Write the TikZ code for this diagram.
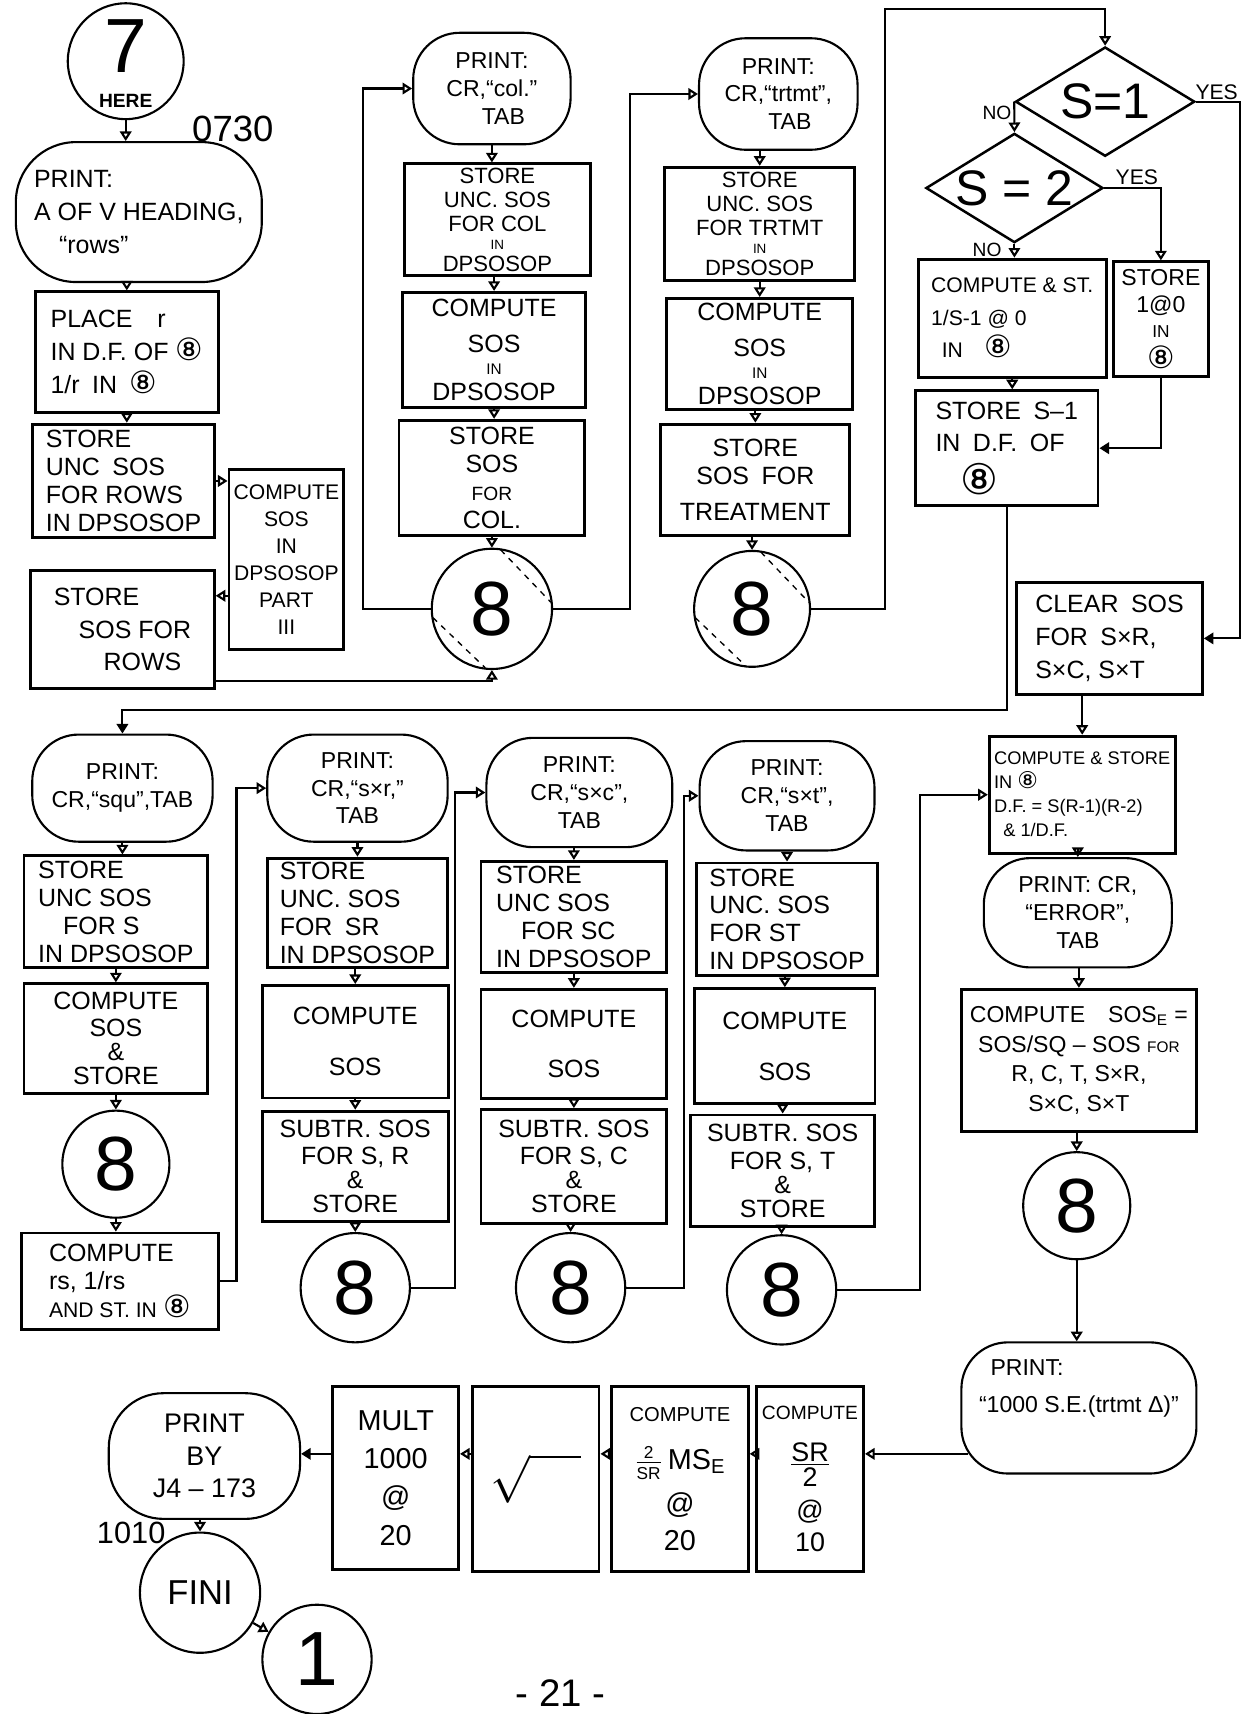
\documentclass[tikz,border=0pt]{standalone}
\usepackage{fontspec}
\setmainfont{Liberation Sans}
\newfontfamily\dejavu{DejaVu Sans}
\usetikzlibrary{shapes.geometric,arrows.meta,calc}
\newcommand{\ei}[1][16]{{\dejavu\fontsize{#1}{#1}\selectfont ⑧}}
\newcommand{\sm}[2][8]{{\fontsize{#1}{#1}\selectfont #2}}
\tikzset{
  wh/.style 2 args={minimum width=#1*0.02cm, minimum height=#2*0.02cm},
  csz/.style={minimum size=#1*0.02cm},
  fs/.style 2 args={font=\fontsize{#1}{#2}\selectfont},
  box/.style={draw, line width=1.5pt, inner sep=2pt, align=center, fs={13}{14.5}},
  term/.style={draw, line width=1.1pt, rounded corners=0.85cm, inner sep=2pt, align=center, fs={12}{14.5}},
  conn/.style={draw, circle, line width=1.1pt, inner sep=0pt, align=center, fs={40}{40}},
  dec/.style={draw, diamond, aspect=1.64, line width=1.3pt, inner sep=0pt, fs={26}{26}},
  arr/.style={line width=1.1pt, -{Triangle[open, length=5pt, width=6pt]}},
  arrf/.style={line width=1.1pt, -{Triangle[length=5pt, width=6pt]}},
  lbl/.style={inner sep=1pt, fs={12}{12}},
  chord/.style={dashed, line width=0.7pt},
}
\begin{document}
\begin{tikzpicture}[x=0.02cm,y=-0.02cm]
\useasboundingbox (0,0) rectangle (1138,1568);
\fill[white] (0,0) rectangle (1138,1568);

% ---------- column 1
\node[conn, csz=106] (c7) at (115,56) {};
\node[lbl, fs={40}{40}] (c7num) at (115,42) {7};
\node[lbl, fs={11}{11}, font=\bfseries] (c7here) at (115,92) {HERE};
\node[lbl, fs={19}{19}] (n0730) at (213,118) {0730};
\node[term, wh={225}{128}, align=left, rounded corners=1.1cm, fs={13}{17}] (t1) at (127,194) {PRINT:\\A OF V HEADING,\\\quad ``rows''};
\node[box, wh={167}{110}, align=left, fs={13}{17}] (b1) at (116,322) {PLACE\quad r\\IN D.F. OF \ei\\1/r\enspace IN\enspace \ei};
\node[box, wh={167}{104}, align=left] (b2) at (113,440) {STORE\\UNC\enspace SOS\\FOR ROWS\\IN DPSOSOP};
\node[box, wh={105}{165}, fs={11}{14}] (b3) at (262,512) {COMPUTE\\SOS\\IN\\DPSOSOP\\PART\\III};
\node[box, wh={168}{108}, align=left, fs={13}{17}] (b4) at (112,576) {STORE\\\quad SOS FOR\\\qquad ROWS};

% ---------- column 2
\node[term, wh={144}{102}] (t2) at (450,81) {PRINT:\\CR,``col.''\\\quad TAB};
\node[box, wh={170}{102}, fs={11.5}{12.5}] (b5) at (455,201) {STORE\\UNC. SOS\\FOR COL\\[-3pt]\sm[7]{IN}\\[-1pt]DPSOSOP};
\node[box, wh={167}{105}] (b6) at (452,320) {COMPUTE\\[4pt]SOS\\[-3pt]\sm{IN}\\[-1pt]DPSOSOP};
\node[box, wh={170}{105}] (b7) at (450,437) {STORE\\SOS\\\sm[10]{FOR}\\COL.};
\node[conn, csz=110] (c8a) at (450,557) {8};

% ---------- column 3
\node[term, wh={145}{102}] (t3) at (712,86) {PRINT:\\CR,``trtmt'',\\\quad TAB};
\node[box, wh={174}{104}, fs={11.5}{12.5}] (b8) at (695,205) {STORE\\UNC. SOS\\FOR TRTMT\\[-3pt]\sm[7]{IN}\\[-1pt]DPSOSOP};
\node[box, wh={170}{102}] (b9) at (695,324) {COMPUTE\\[4pt]SOS\\[-3pt]\sm{IN}\\[-1pt]DPSOSOP};
\node[box, wh={173}{102}] (b10) at (691,439) {STORE\\SOS\enspace FOR\\[4pt]TREATMENT};
\node[conn, csz=106] (c8b) at (688,557) {8};

% ---------- decisions
\node[dec, wh={164}{100}] (d1) at (1011,93) {S=1};
\node[dec, wh={162}{100}] (d2) at (928,172) {S = 2};
\node[lbl, fs={10}{10}] (no1) at (912,103) {NO};
\node[lbl, fs={11}{11}] (yes1) at (1113,84) {YES};
\node[lbl, fs={11}{11}] (yes2) at (1040,162) {YES};
\node[lbl, fs={10}{10}] (no2) at (903,229) {NO};
\node[box, wh={172}{108}, align=left, fs={11}{17}] (b11) at (926,291) {COMPUTE \& ST.\\1/S-1 @ 0\\\enspace IN\quad \ei};
\node[box, wh={87}{105}, fs={12}{14}] (b12) at (1062,292) {STORE\\1@0\\[-1pt]\sm[9]{IN}\\[2pt]\ei};
\node[box, wh={167}{105}, align=left, fs={13}{17}] (b13) at (921,410) {STORE\enspace S--1\\IN\enspace D.F.\enspace OF\\[5pt]\quad\ei[22]};
\node[box, wh={170}{102}, align=left, fs={13}{17}] (b14) at (1015,584) {CLEAR\enspace SOS\\FOR\enspace S×R,\\S×C, S×T};

% ---------- right column, lower
\node[box, wh={170}{107}, align=left, fs={9.5}{12.5}] (b15) at (990,727) {COMPUTE \& STORE\\IN \ei[12]\\D.F. = S(R-1)(R-2)\\\enspace\& 1/D.F.};
\node[term, wh={172}{100}] (t8) at (986,835) {PRINT: CR,\\``ERROR'',\\TAB};
\node[box, wh={215}{130}, fs={12}{15.5}] (b28) at (987,970) {COMPUTE\quad SOS\textsubscript{E} =\\SOS/SQ -- SOS \sm{FOR}\\R, C, T, S×R,\\S×C, S×T};
\node[conn, csz=98] (c8g) at (985,1103) {8};
\node[term, wh={215}{120}, align=left, fs={12}{15}] (t9) at (987,1288) {\enspace PRINT:\\[4pt]``1000 S.E.(trtmt Δ)''\\[8pt]\mbox{}};

% ---------- row 2, column A
\node[term, wh={165}{98}] (t4) at (112,721) {PRINT:\\CR,``squ'',TAB};
\node[box, wh={168}{102}, align=left] (b16) at (106,834) {STORE\\UNC SOS\\\quad FOR S\\IN DPSOSOP};
\node[box, wh={168}{100}] (b17) at (106,950) {COMPUTE\\SOS\\[-2pt]\&\\[-2pt]STORE};
\node[conn, csz=98] (c8c) at (106,1065) {8};
\node[box, wh={180}{88}, align=left] (b18) at (110,1172) {COMPUTE\\rs, 1/rs\\\sm[11]{AND ST. IN} \ei};

% ---------- column B
\node[term, wh={165}{98}] (t5) at (327,721) {PRINT:\\CR,``s×r,''\\TAB};
\node[box, wh={165}{100}, align=left] (b19) at (327,835) {STORE\\UNC. SOS\\FOR\enspace SR\\IN DPSOSOP};
\node[box, wh={170}{103}] (b20) at (325,953) {COMPUTE\\[12pt]SOS};
\node[box, wh={170}{101}] (b21) at (325,1067) {SUBTR. SOS\\FOR S, R\\[-2pt]\&\\[-2pt]STORE};
\node[conn, csz=100] (c8d) at (325,1178) {8};

% ---------- column C
\node[term, wh={170}{100}] (t6) at (530,725) {PRINT:\\CR,``s×c'',\\TAB};
\node[box, wh={170}{102}, align=left] (b22) at (525,839) {STORE\\UNC SOS\\\quad FOR SC\\IN DPSOSOP};
\node[box, wh={170}{100}] (b23) at (525,955) {COMPUTE\\[12pt]SOS};
\node[box, wh={170}{104}] (b24) at (525,1067) {SUBTR. SOS\\FOR S, C\\[-2pt]\&\\[-2pt]STORE};
\node[conn, csz=100] (c8e) at (522,1178) {8};

% ---------- column D
\node[term, wh={160}{100}] (t7) at (720,728) {PRINT:\\CR,``s×t'',\\TAB};
\node[box, wh={165}{103}, align=left] (b25) at (720,841) {STORE\\UNC. SOS\\FOR ST\\IN DPSOSOP};
\node[box, wh={165}{105}] (b26) at (718,957) {COMPUTE\\[12pt]SOS};
\node[box, wh={168}{102}] (b27) at (716,1071) {SUBTR. SOS\\FOR S, T\\[-2pt]\&\\[-2pt]STORE};
\node[conn, csz=100] (c8f) at (715,1180) {8};

% ---------- bottom row
\node[box, wh={98}{170}, fs={14}{17}] (b29) at (741,1353) {\sm[10]{COMPUTE}\\[5pt]\underline{SR}\\[-4pt]2\\@\\10};
\node[box, wh={125}{170}, fs={15}{19}] (b30) at (622,1353) {\sm[10.5]{COMPUTE}\\[6pt]$\frac{\mbox{\sm[9]{2}}}{\mbox{\sm[9]{SR}}}$\,MS\textsubscript{E}\\[4pt]@\\20};
\node[box, wh={116}{170}, fs={30}{30}] (b31) at (490,1353) {$\sqrt{\hphantom{M}}$};
\node[box, wh={115}{168}, fs={15}{20}] (b32) at (362,1352) {MULT\\1000\\@\\20};
\node[term, wh={175}{115}, rounded corners=1cm, fs={14}{17}] (t10) at (187,1332) {PRINT\\BY\\J4 -- 173};
\node[lbl, fs={16}{16}] (n1010) at (120,1402) {1010};
\node[conn, csz=110, fs={18}{18}] (cF) at (183,1457) {FINI};
\node[conn, csz=100] (c1) at (290,1518) {1};
\node[lbl, fs={20}{20}] (pg) at (513,1549) {- 21 -};

% ---------- dashed chords
\draw[chord] ($(c8a)+(8,-54)$) -- ($(c8a)+(54,-6)$);
\draw[chord] ($(c8a)+(-54,8)$) -- ($(c8a)+(-6,54)$);
\draw[chord] ($(c8b)+(8,-52)$) -- ($(c8b)+(52,-6)$);
\draw[chord] ($(c8b)+(-52,8)$) -- ($(c8b)+(-6,52)$);

% ---------- connectors
\coordinate (ya) at (0,1330);
\draw[arr] (c7.south) -- (c7.south |- t1.north);
\draw[arr] (b1.north |- t1.south) -- (b1.north);
\draw[arr] (b1.south) -- (b1.south |- b2.north);
\draw[arr] (b2.east) -- (b2.east -| b3.west);
\draw[arr] ($(b3.west)+(0,33)$) -- ($(b4.east)+(0,-31)$);
\draw[arr] ($(b4.south east)+(0,-8)$) -| (c8a.south);
\draw[arr] (c8a.west) -- ++(-62,0) |- (t2.west);
\draw[arr] (t2.south) -- (t2.south |- b5.north);
\draw[arr] (b6.north |- b5.south) -- (b6.north);
\draw[arr] (b6.south) -- (b6.south |- b7.north);
\draw[arr] (c8a.north |- b7.south) -- (c8a.north);
\draw[arr] (c8a.east) -- ++(70,0) |- (t3.west);
\draw[arr] (b8.north |- t3.south) -- (b8.north);
\draw[arr] (b9.north |- b8.south) -- (b9.north);
\draw[arr] (b10.north |- b9.south) -- (b10.north);
\draw[arr] (c8b.north |- b10.south) -- (c8b.north);
\draw[arr] (c8b.east) -- ++(68,0) |- ($(d1.north)+(0,-34)$) -- (d1.north);
\draw[arr] (d1.west) -- (d2.north);
\draw[arrf] (d1.east) -- ++(40,0) |- (b14.east);
\draw[arr] (d2.east) -| (b12.north);
\draw[arr] (d2.south) -- (d2.south |- b11.north);
\draw[arr] (b11.south) -- (b11.south |- b13.north);
\draw[arrf] (b12.south) |- (b13.east);
\draw[arrf] (b13.south) -- ++(0,186) -| (t4.north);
\draw[arr] (b15.north |- b14.south) -- (b15.north);

\draw[arr] (t4.south) -- (t4.south |- b16.north);
\draw[arr] (b17.north |- b16.south) -- (b17.north);
\draw[arr] (b17.south) -- (c8c.north);
\draw[arr] (c8c.south) -- (c8c.south |- b18.north);
\draw[arr] (b18.east) -- ++(15,0) |- (t5.west);
\draw[arr] (t5.south) -- (t5.south |- b19.north);
\draw[arr] (b20.north |- b19.south) -- (b20.north);
\draw[arr] (b20.south) -- (b20.south |- b21.north);
\draw[arr] (b21.south) -- (c8d.north);
\draw[arr] (c8d.east) -- ++(40,0) |- (t6.west);
\draw[arr] (b22.north |- t6.south) -- (b22.north);
\draw[arr] (b22.south) -- (b22.south |- b23.north);
\draw[arr] (b23.south) -- (b23.south |- b24.north);
\draw[arr] (c8e.north |- b24.south) -- (c8e.north);
\draw[arr] (c8e.east) -- ++(53,0) |- (t7.west);
\draw[arr] (t7.south) -- (t7.south |- b25.north);
\draw[arr] (b26.north |- b25.south) -- (b26.north);
\draw[arr] (b27.north |- b26.south) -- (b27.north);
\draw[arr] (c8f.north |- b27.south) -- (c8f.north);
\draw[arr] (c8f.east) -- ++(76,0) |- (b15.west);
\draw[arr] (t8.north |- b15.south) -- (t8.north);
\draw[arr] (b28.north |- t8.south) -- (b28.north);
\draw[arr] (c8g.north |- b28.south) -- (c8g.north);
\draw[arr] (c8g.south) -- (c8g.south |- t9.north);

\draw[arr] ($(t9.west |- ya)+(7,0)$) -- (b29.east |- ya);
\draw[arr] (b29.west |- ya) -- (b30.east |- ya);
\draw[arr] (b30.west |- ya) -- (b31.east |- ya);
\draw[arr] (b31.west |- ya) -- (b32.east |- ya);
\draw[arrf] (b32.west |- ya) -- (t10.east |- ya);
\draw[arr] (cF.north |- t10.south) -- (cF.north);
\draw[arr] (cF) -- (c1);
\end{tikzpicture}
\end{document}
